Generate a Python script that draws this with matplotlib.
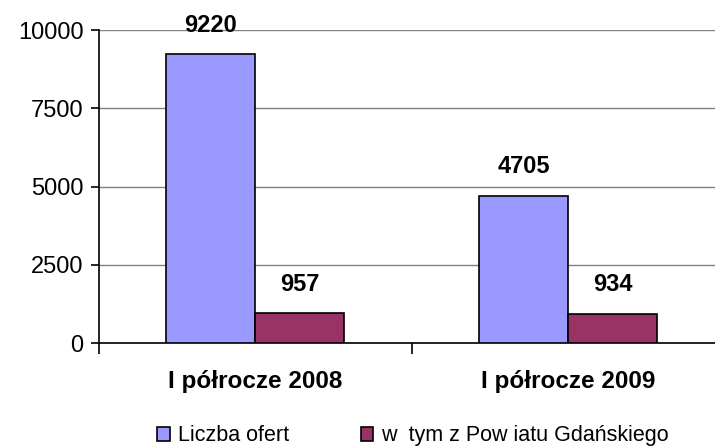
import numpy as np
import matplotlib
matplotlib.use("Agg")
from matplotlib import pyplot as plt

categories = ["I półrocze 2008", "I półrocze 2009"]
series_names = ["Liczba ofert", "w  tym z Pow iatu Gdańskiego"]
oferty = [9220, 4705]
gdanski = [957, 934]
colors = ["#9999FF", "#993366"]

plt.rcParams['font.family'] = ['Liberation Sans', 'DejaVu Sans']

fig = plt.figure(figsize=(7.15, 4.48), dpi=100)
ax = fig.add_axes([0.138, 0.234, 0.876, 0.699])

x = np.arange(len(categories))
w = 0.284
b1 = ax.bar(x - w / 2, oferty, w, color=colors[0], edgecolor="black", linewidth=1.2, label=series_names[0], zorder=3)
b2 = ax.bar(x + w / 2, gdanski, w, color=colors[1], edgecolor="black", linewidth=1.2, label=series_names[1], zorder=3)

for bars, vals in ((b1, oferty), (b2, gdanski)):
    for r, v in zip(bars, vals):
        ax.annotate(str(v), (r.get_x() + r.get_width() / 2, v), xytext=(0, 21),
                    textcoords="offset points", ha="center", va="center",
                    fontsize=17, fontweight="bold")

ax.set_xlim(-0.5, 1.5)
ax.set_ylim(0, 10000)
ax.set_yticks([0, 2500, 5000, 7500, 10000])
ax.tick_params(axis="y", labelsize=17, length=6, width=1.2, direction="out", pad=5)
ax.yaxis.grid(True, color="#808080", linewidth=1)
ax.set_axisbelow(True)

ax.set_xticks(x)
ax.set_xticklabels(categories, fontsize=17.5, fontweight="bold")
ax.tick_params(axis="x", which="major", length=0, pad=19)
ax.set_xticks([-0.5, 0.5, 1.5], minor=True)
ax.tick_params(axis="x", which="minor", length=8, width=1.2, direction="out")

for s in ("top", "right"):
    ax.spines[s].set_visible(False)
ax.spines["left"].set_linewidth(1.2)
ax.spines["bottom"].set_linewidth(1.2)

fig.legend(handles=[b1, b2], loc="center", bbox_to_anchor=(0.578, 0.027), ncol=2,
           frameon=False, fontsize=15.5, handlelength=0.6, handleheight=0.6,
           handletextpad=0.37, columnspacing=3.3, borderpad=0)

fig.savefig("out.png", dpi=100)
